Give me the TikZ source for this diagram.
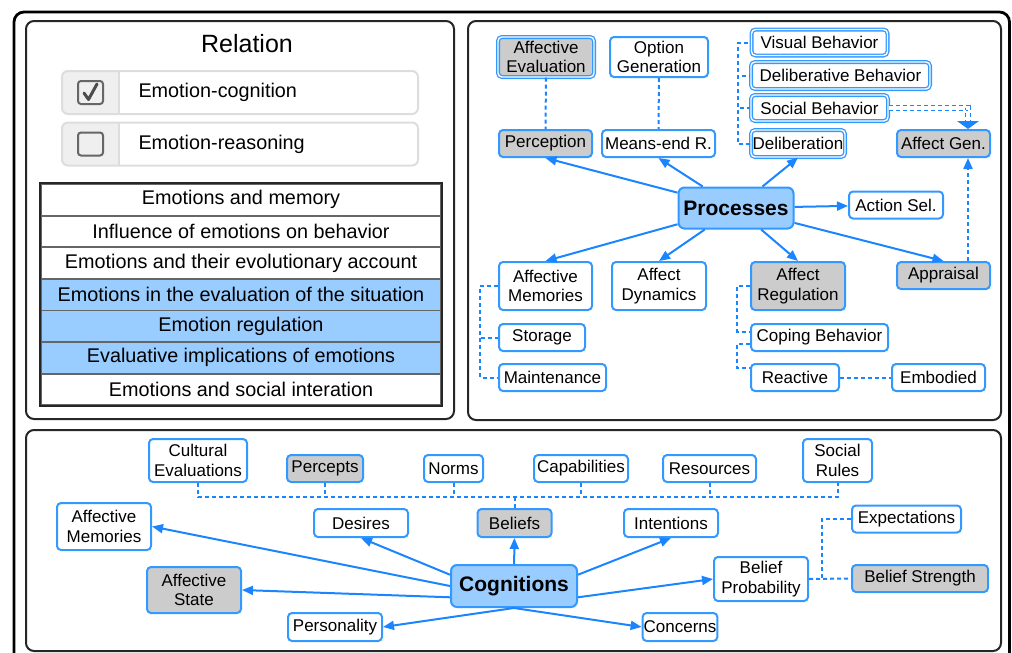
\documentclass[tikz,border=0pt]{standalone}
\usepackage{fontspec}
\setmainfont{Liberation Sans}
\usetikzlibrary{arrows.meta}
\definecolor{boxblue}{HTML}{3399FF}
\definecolor{linkblue}{HTML}{1A85FF}
\definecolor{boxgray}{HTML}{CCCCCC}
\definecolor{hubblue}{HTML}{99CCFF}
\definecolor{cellgray}{HTML}{EFEFEF}
\definecolor{rowline}{HTML}{DDDDDD}
\newcommand\mapfont{\fontsize{17}{19.5}\selectfont}
\newcommand\hubfont{\fontsize{21}{24}\selectfont\bfseries}
\newcommand\rowfont{\fontsize{19.8}{22}\selectfont}

\begin{document}
\begin{tikzpicture}[x=1pt, y=-1pt,
  sz/.style 2 args={minimum width=#1, minimum height=#2},
  cbox/.style={draw=boxblue, line width=2pt, rounded corners=4pt, fill=white, align=center, font=\mapfont, inner sep=1pt},
  gbox/.style={cbox, fill=boxgray},
  dbl/.style={double=white, double distance=1.4pt, line width=1.3pt},
  hub/.style={cbox, fill=hubblue, font=\hubfont, rounded corners=6pt},
  link/.style={draw=linkblue, line width=2pt, -{Triangle[length=11pt,width=9pt]}},
  tie/.style={draw=linkblue, line width=2pt, dash pattern=on 4pt off 3pt},
  panel/.style={draw=black!85, line width=2pt, rounded corners=8pt},
  tabrow/.style={draw=black!60, line width=1.8pt, sz={400}{31.6}, font=\rowfont, inner sep=0pt}]
\useasboundingbox (0,0) rectangle (1012,653);
\draw[black, line width=2.8pt, rounded corners=10pt] (14,12) rectangle (1009.5,690);
\draw[panel] (26,21) rectangle (454,419);
\draw[panel] (468,21) rectangle (1001,420);
\draw[panel] (26,430) rectangle (1001,651);

% relation panel
\node[font=\fontsize{25}{28}\selectfont] (rel) at (247,44) {Relation};
\foreach \y/\t [count=\k] in {92.5/Emotion-cognition, 144/Emotion-reasoning}
  {\begin{scope}
     \clip[rounded corners=6pt] (62,\y-21.5) rectangle (418,\y+21.5);
     \fill[cellgray] (62,\y-21.5) rectangle (119,\y+21.5);
   \end{scope}
   \draw[rowline, line width=1.6pt] (119,\y-21.5) -- (119,\y+21.5);
   \draw[rowline, line width=2pt, rounded corners=6pt] (62,\y-21.5) rectangle (418,\y+21.5);
   \draw[black!60, line width=2pt, rounded corners=3pt] (78,\y-11.5) rectangle (103,\y+11.5);
   \node[anchor=west, font=\rowfont] (opt\k) at (135,\y) {\t};}
\draw[black!70, line width=3pt, line cap=round, line join=round] (84,93) -- (88.5,99.5) -- (97,84);
\foreach \t/\c [count=\i from 0] in {Emotions and memory/white, Influence of emotions on behavior/white,
    Emotions and their evolutionary account/white, Emotions in the evaluation of the situation/hubblue,
    Emotion regulation/hubblue, Evaluative implications of emotions/hubblue, Emotions and social interation/white}
  \node[tabrow, fill=\c] (row\i) at (241, 199.8+31.6*\i) {\t};
\draw[black!85, line width=2.4pt] (row0.north west) rectangle (row6.south east);

% processes panel
\node[gbox, dbl, sz={96}{40}] (aeval) at (546,57) {Affective\\Evaluation};
\node[cbox, sz={98}{40}] (optg) at (659,57) {Option\\Generation};
\node[cbox, dbl, sz={136}{26}] (vis) at (819.5,42.5) {Visual Behavior};
\node[cbox, dbl, sz={179}{27}] (delb) at (840.5,75.5) {Deliberative Behavior};
\node[cbox, dbl, sz={137}{26}] (soc) at (819.5,108) {Social Behavior};
\node[cbox, dbl, sz={94}{27}] (delib) at (798,143.5) {Deliberation};
\node[gbox, sz={93}{27}] (perc) at (545.5,143.5) {Perception};
\node[cbox, sz={113}{27}] (means) at (658.5,143.5) {Means-end R.};
\node[gbox, sz={93}{27}] (agen) at (943.5,143.5) {Affect Gen.};
\node[hub, sz={115}{41}] (proc) at (736,208) {Processes};
\node[cbox, sz={94}{27}] (act) at (896,205) {Action Sel.};
\node[cbox, sz={93}{48}] (amem) at (545.5,286) {Affective\\Memories};
\node[cbox, sz={94}{48}] (adyn) at (659,286) {Affect\\Dynamics};
\node[gbox, sz={94}{48}] (areg) at (798,286) {Affect\\Regulation};
\node[gbox, sz={93}{27}] (appr) at (943.5,275.5) {Appraisal};
\node[cbox, sz={86}{27}] (stor) at (542,337.5) {Storage};
\node[cbox, sz={107}{27}] (maint) at (552.5,377.5) {Maintenance};
\node[cbox, sz={137}{27}] (cope) at (819.5,337.5) {Coping Behavior};
\node[cbox, sz={88}{27}] (react) at (795,377.5) {Reactive};
\node[cbox, sz={93}{27}] (embo) at (938.5,377.5) {Embodied};
\coordinate (gtip) at (968,129);

\foreach \t in {perc.south, means.south, delib.south, act, amem.north, adyn.north, areg.north, appr.north}
  \draw[link] (proc) -- (\t);
\draw[tie] (aeval) -- (perc);
\draw[tie] (optg) -- (means);
\foreach \b in {vis, delb, soc}
  \draw[tie] (delib.west) -- ++(-12,0) |- (\b.west);
\foreach \b in {stor, maint}
  \draw[tie] (amem.west) -- ++(-18,0) |- (\b.west);
\draw[tie] (areg.west) -- ++(-13,0) |- ([yshift=6pt]cope.west);
\draw[tie] ([yshift=-6pt]cope.west) -- ++(-13,0) |- ([yshift=10pt]react.west);
\draw[tie] (react) -- (embo);
\draw[tie, double=white, double distance=3.5pt, line width=1.6pt] (soc.east) -| ([yshift=7pt]gtip);
\fill[linkblue] (gtip) -- ++(-11,-8) -- ++(22,0) -- cycle;
\draw[tie, -{Triangle[length=11pt,width=9pt]}] (appr.north -| gtip) -- (agen.south -| gtip);

% cognitions panel
\node[cbox, sz={98}{43}] (cult) at (198,460.5) {Cultural\\Evaluations};
\node[gbox, sz={76}{27}] (percp) at (325,468.5) {Percepts};
\node[cbox, sz={59}{27}] (norms) at (453.5,468.5) {Norms};
\node[cbox, sz={94}{27}] (capa) at (581,468.5) {Capabilities};
\node[cbox, sz={93}{27}] (reso) at (709.5,468.5) {Resources};
\node[cbox, sz={69}{43}] (rules) at (837.5,460.5) {Social\\Rules};
\node[cbox, sz={94}{47}] (amem2) at (104,526.5) {Affective\\Memories};
\node[cbox, sz={94}{28}] (des) at (361,523) {Desires};
\node[gbox, sz={74}{28}] (bel) at (514.5,523) {Beliefs};
\node[cbox, sz={94}{28}] (int) at (671,523) {Intentions};
\node[cbox, sz={109}{27}] (exp) at (906.5,519) {Expectations};
\node[gbox, sz={94}{46}] (as) at (194,590) {Affective\\State};
\node[hub, sz={126}{42}] (cog) at (514,586) {Cognitions};
\node[cbox, sz={94}{44}] (bp) at (761,579) {Belief\\Probability};
\node[gbox, sz={136}{27}] (bs) at (920,578.5) {Belief Strength};
\node[cbox, sz={94}{28}] (pers) at (335,627) {Personality};
\node[cbox, sz={74}{28}] (conc) at (680,627) {Concerns};
\coordinate (bus) at (514.5,497);

\draw[tie] (cult.south) |- (bus) -| (rules.south);
\foreach \n in {percp, norms, capa, reso}
  \draw[tie] (\n.south) -- (\n.south |- bus);
\draw[tie] (bus) -- (bel.north);
\draw[tie] (exp.west) -- ++(-29,0) |- (bp.east);
\draw[tie] (bp.east) -- (bs.west);
\draw[link] (cog.west) -- (amem2.east);
\draw[link] (cog.170) -- (des.south);
\draw[link] (cog) -- (bel);
\draw[link] (cog.10) -- (int.south);
\draw[link] (cog.190) -- (as.east);
\draw[link] (cog.-10) -- (bp.west);
\draw[link] (cog.south) -- (pers.east);
\draw[link] (cog.south) -- (conc.west);
\end{tikzpicture}
\end{document}
